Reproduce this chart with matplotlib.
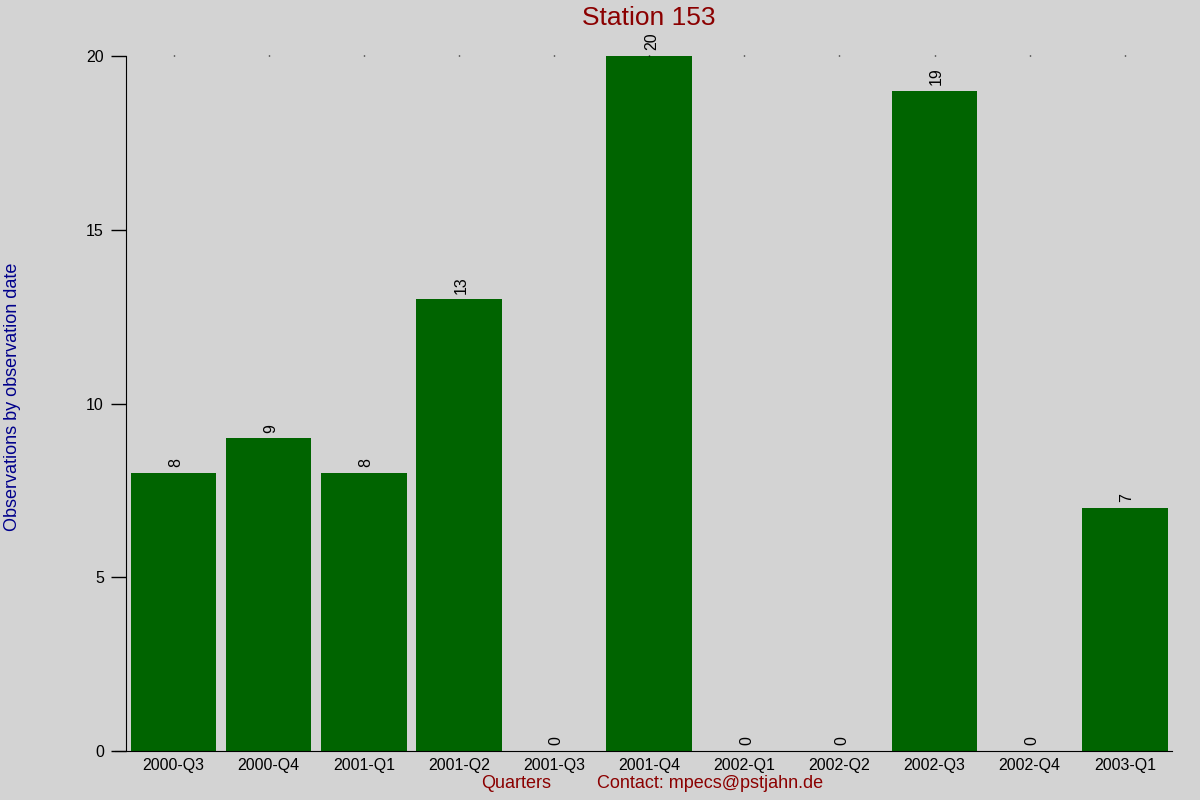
import numpy as np
import matplotlib.pyplot as plt

plt.rcParams['font.family'] = ['Liberation Sans', 'DejaVu Sans']

# Данные
quarters = ['2000-Q3', '2000-Q4', '2001-Q1', '2001-Q2', '2001-Q3', '2001-Q4',
            '2002-Q1', '2002-Q2', '2002-Q3', '2002-Q4', '2003-Q1']
counts = [8, 9, 8, 13, 0, 20, 0, 0, 19, 0, 7]
yticks = [0, 5, 10, 15, 20]

bg = '#d3d3d3'
fig = plt.figure(figsize=(12, 8), dpi=100, facecolor=bg)
ax = fig.add_axes([0.105, 0.06125, 0.872, 0.86875], facecolor=bg)

x = np.arange(len(quarters))
ax.bar(x, counts, width=0.9, color='#006400')

# Подписи значений над столбцами
for xi, v in zip(x, counts):
    ax.annotate(str(v), (xi, v), xytext=(1.5, 4), textcoords='offset points',
                ha='center', va='bottom', rotation=90, fontsize=11.5)

ax.set_xlim(-0.5, len(quarters) - 0.5)
ax.set_ylim(0, 20)
ax.set_xticks(x)
ax.set_xticklabels(quarters, fontsize=11.5)
ax.set_yticks(yticks)
ax.set_yticklabels([str(t) for t in yticks], fontsize=11.5)

ax.spines['top'].set_visible(False)
ax.spines['right'].set_visible(False)
ax.tick_params(axis='x', top=True, length=1, width=1, pad=4)
ax.tick_params(axis='x', bottom=False)
ax.tick_params(axis='y', length=11, width=1, pad=5)

# Продлеваем ось X влево до засечки
ax.spines['bottom'].set_bounds(-0.5 - 11 / 95.1, len(quarters) - 0.5)
ax.spines['bottom'].set_clip_on(False)

ax.set_title('Station 153', color='#8b0000', fontsize=19, pad=22)
fig.text(0.003, 0.504, 'Observations by observation date', rotation=90,
         color='#00008b', fontsize=13, ha='left', va='center')
fig.text(0.43, 0.015, 'Quarters', color='#8b0000', fontsize=13, ha='center')
fig.text(0.592, 0.015, 'Contact: mpecs@pstjahn.de', color='#8b0000',
         fontsize=13, ha='center')

fig.savefig('out.png', dpi=100, facecolor=bg)
